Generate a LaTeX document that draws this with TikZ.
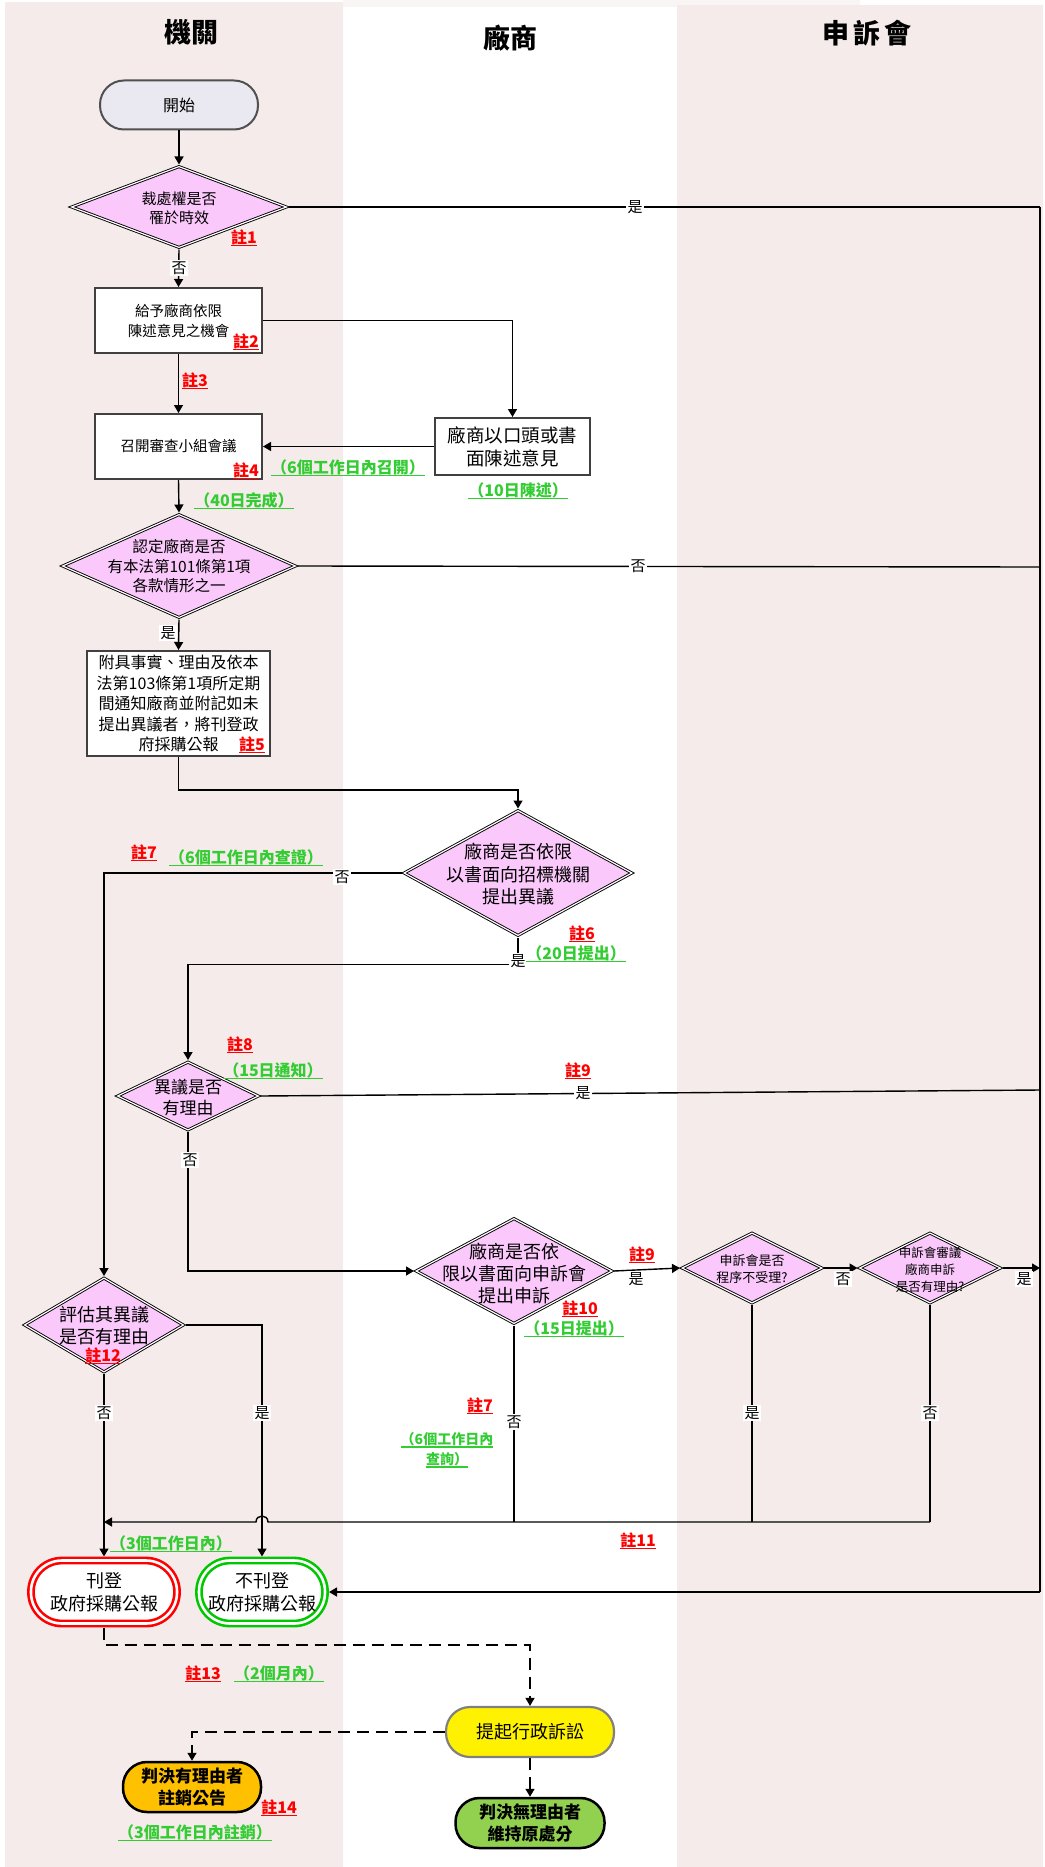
\documentclass[tikz,border=0pt]{standalone}
\usepackage{fontspec}
\setmainfont{Noto Sans CJK TC}
\usetikzlibrary{shapes.geometric,arrows.meta,calc}
\definecolor{lanepink}{RGB}{246,235,235}
\definecolor{dpink}{RGB}{251,200,251}
\definecolor{startgray}{RGB}{234,232,240}
\definecolor{notegreen}{RGB}{51,204,51}
\definecolor{orangeF}{RGB}{255,192,0}
\definecolor{greenF}{RGB}{146,208,80}
\definecolor{boxgray}{RGB}{64,64,64}
\definecolor{termgray}{RGB}{80,80,80}
\definecolor{suitgray}{RGB}{128,128,128}
\definecolor{ringgreen}{RGB}{0,200,0}
\newcommand{\myfs}[2]{\fontsize{#1}{#2}\selectfont}
\newcommand{\myul}[1]{\leavevmode\setbox0=\hbox{#1}\rlap{\rule[-3pt]{\wd0}{1.2pt}}\box0}
\begin{document}
\begin{tikzpicture}[x=1pt,y=-1pt,
  dia/.style={shape=diamond, draw=black, double=white, double distance=1.2pt, line width=0.9pt, fill=dpink, inner sep=0pt, outer sep=1.5pt},
  dtext/.style={align=center, inner sep=0pt},
  pbox/.style={rectangle, draw=boxgray, line width=2pt, fill=white, inner sep=0pt, align=center},
  term/.style={rectangle, rounded corners=#1, inner sep=0pt, align=center},
  conn/.style={line width=1.4pt, draw=black},
  arr/.style={conn, -{Triangle[length=8pt,width=9pt]}},
  dsh/.style={arr, dash pattern=on 12pt off 7pt},
  yn/.style={fill=white, inner sep=1.5pt, font=\myfs{15}{15}},
  note/.style={text=red, font=\bfseries\myfs{16}{16}, inner sep=0pt},
  gnote/.style={text=notegreen, font=\bfseries\myfs{16}{20}, inner sep=0pt, align=center},
  ttl/.style={font=\bfseries\myfs{27}{27}, inner sep=0pt},
]
\useasboundingbox (0,0) rectangle (1044,1867);
% lanes
\fill[lanepink] (5,2) rectangle (343,1867);
\fill[lanepink!50] (343,0) rectangle (860,7);
\fill[lanepink] (677,5) rectangle (1043,1867);
\node[ttl] (h1) at (191,32) {機關};
\node[ttl] (h2) at (510,38) {廠商};
\node[ttl] (h3) at (867,33) {申\hspace{4pt}訴\hspace{4pt}會};

% nodes
\node[term=24pt, draw=termgray, line width=2pt, fill=startgray, minimum width=158pt, minimum height=49pt, font=\myfs{16}{16}] (start) at (179,105) {開始};
\node[dia, minimum width=216pt, minimum height=82pt] (d1) at (179,207) {};
\node[dtext, font=\myfs{15}{19}] (d1t) at (179,208.5) {裁處權是否\\罹於時效};
\node[pbox, minimum width=167pt, minimum height=65pt, font=\myfs{14.5}{20}] (b2) at (178.5,320.5) {給予廠商依限\\陳述意見之機會};
\node[pbox, minimum width=167pt, minimum height=65pt, font=\myfs{14.5}{20}] (b3) at (178.5,446.5) {召開審查小組會議};
\node[pbox, minimum width=155pt, minimum height=57pt, font=\myfs{18.5}{23}] (bv) at (512.5,446.5) {廠商以口頭或書\\面陳述意見};
\node[dia, minimum width=234pt, minimum height=104pt] (d2) at (179,566) {};
\node[dtext, font=\myfs{15.5}{19.5}] (d2t) at (179,566.5) {認定廠商是否\\有本法第101條第1項\\各款情形之一};
\node[pbox, minimum width=183pt, minimum height=105pt, font=\myfs{16}{20.5}] (b5) at (178.5,703.5) {附具事實、理由及依本\\法第103條第1項所定期\\間通知廠商並附記如未\\提出異議者，將刊登政\\府採購公報};
\node[dia, minimum width=229pt, minimum height=126pt] (d3) at (518,873) {};
\node[dtext, font=\myfs{18}{22.5}] (d3t) at (518,874.5) {廠商是否依限\\以書面向招標機關\\提出異議};
\node[dia, minimum width=142pt, minimum height=69pt] (d4) at (188,1096) {};
\node[dtext, font=\myfs{17}{21}] (d4t) at (188,1097.5) {異議是否\\有理由};
\node[dia, minimum width=160pt, minimum height=95pt] (d5) at (104,1325) {};
\node[dtext, font=\myfs{18}{22}] (d5t) at (104,1326) {評估其異議\\是否有理由};
\node[dia, minimum width=197pt, minimum height=106pt] (d6) at (514,1271) {};
\node[dtext, font=\myfs{18}{22}] (d6t) at (514,1273) {廠商是否依\\限以書面向申訴會\\提出申訴};
\node[dia, minimum width=141pt, minimum height=71pt] (d7) at (752,1268) {};
\node[dtext, font=\myfs{13}{17}] (d7t) at (752,1269.5) {申訴會是否\\程序不受理?};
\node[dia, minimum width=142pt, minimum height=71pt] (d8) at (930,1268) {};
\node[dtext, font=\myfs{12.5}{17}] (d8t) at (930,1270) {申訴會審議\\廠商申訴\\是否有理由?};
\node[term=31pt, draw=red, double=white, double distance=2.6pt, line width=2.6pt, fill=white, outer sep=4pt, minimum width=146pt, minimum height=63pt, font=\myfs{18}{23}] (tpub) at (104,1592) {刊登\\政府採購公報};
\node[term=31pt, draw=ringgreen, double=white, double distance=2.6pt, line width=2.6pt, fill=white, outer sep=4pt, minimum width=126pt, minimum height=63pt, font=\myfs{18}{23}] (tnopub) at (262,1592) {不刊登\\政府採購公報};
\node[term=24pt, draw=suitgray, line width=2.2pt, fill=yellow, minimum width=168pt, minimum height=50pt, font=\myfs{18}{22}] (tsuit) at (530,1732) {提起行政訴訟};
\node[term=24pt, draw=black, line width=2.5pt, fill=orangeF, minimum width=138pt, minimum height=50pt, font=\bfseries\myfs{17}{22}] (tyes) at (192,1787) {判決有理由者\\註銷公告};
\node[term=24pt, draw=black, line width=2.5pt, fill=greenF, minimum width=149pt, minimum height=50pt, font=\bfseries\myfs{17}{22}] (tno) at (530,1823) {判決無理由者\\維持原處分};

% right-side collector line
\coordinate (r1) at (1040,207);
\coordinate (r2) at (1040,567);
\coordinate (r3) at (1040,1090);
\coordinate (r4) at (1040,1268);
\coordinate (r5) at (1040,1592);
\draw[conn, line width=2.4pt] (r1) -- (r5);

% connectors
\draw[arr] (start.south) -- (d1.north);
\draw[arr] (d1.south) -- (b2.north);
\draw[conn] (d1.east) -- (r1);
\draw[arr] (b2.east) -| (bv.north);
\draw[arr] (b2.south) -- (b3.north);
\draw[arr] (bv.west) -- (b3.east);
\draw[arr] (b3.south) -- (d2.north);
\draw[conn] (d2.east) -- (r2);
\draw[arr] (d2.south) -- (b5.north);
\draw[arr] (b5.south) -- ++(0,33) -| (d3.north);
\draw[arr] (d3.west) -| (d5.north);
\draw[arr] (d3.south) -- ++(0,27) -| (d4.north);
\draw[conn] (d4.east) -- (r3);
\draw[arr] (d4.south) |- (d6.west);
\draw[arr] (d5.south) -- (tpub.north);
\draw[arr] (d5.east) -| (tnopub.north);
\draw[arr] (d6.east) -- (d7.west);
\draw[arr] (d7.east) -- (d8.west);
\draw[arr] (d8.east) -- (r4);
\draw[arr] (r5) -- (tnopub.east);

\coordinate (c6) at (514,1522);
\coordinate (c7) at (752,1522);
\coordinate (c8) at (930,1522);
\coordinate (cL) at (104,1522);
\draw[conn] (d6.south) -- (c6);
\draw[conn] (d7.south) -- (c7);
\draw[conn] (d8.south) -- (c8);
\draw[arr] (c8) -- (268,1522) .. controls (268,1514) and (256,1514) .. (256,1522) -- (cL);

\coordinate (dA) at (104,1645);
\coordinate (dB) at (530,1645);
\draw[dsh] (tpub.south) -- (dA) -- (dB) -- (tsuit.north);
\draw[dsh] (tsuit.west) -| (tyes.north);
\draw[dsh] (tsuit.south) -- (tno.north);

% yes/no labels
\node[yn] (l1) at (635,207) {是};
\node[yn] (l2) at (179,268) {否};
\node[yn] (l3) at (638,566) {否};
\node[yn] (l4) at (168,633) {是};
\node[yn] (l5) at (342,877) {否};
\node[yn] (l6) at (518,961) {是};
\node[yn] (l7) at (583,1093) {是};
\node[yn] (l8) at (190,1160) {否};
\node[yn] (l9) at (636,1279) {是};
\node[yn] (l10) at (843,1279) {否};
\node[yn] (l11) at (1024,1279) {是};
\node[yn] (l12) at (514,1422) {否};
\node[yn] (l13) at (752,1413) {是};
\node[yn] (l14) at (930,1413) {否};
\node[yn] (l15) at (104,1413) {否};
\node[yn] (l16) at (262,1413) {是};

% red notes
\node[note] (n1) at (244,238) {\myul{註1}};
\node[note] (n2) at (246,342) {\myul{註2}};
\node[note] (n3) at (195,381) {\myul{註3}};
\node[note] (n4) at (246,471) {\myul{註4}};
\node[note] (n5) at (252,745) {\myul{註5}};
\node[note] (n6) at (582,934) {\myul{註6}};
\node[note] (n7) at (144,853) {\myul{註7}};
\node[note] (n8) at (240,1045) {\myul{註8}};
\node[note] (n9) at (578,1071) {\myul{註9}};
\node[note] (n9b) at (642,1255) {\myul{註9}};
\node[note] (n10) at (580,1309) {\myul{註10}};
\node[note] (n7b) at (480,1406) {\myul{註7}};
\node[note] (n11) at (638,1541) {\myul{註11}};
\node[note] (n12) at (103,1356) {\myul{註12}};
\node[note] (n13) at (203,1674) {\myul{註13}};
\node[note] (n14) at (279,1808) {\myul{註14}};

% green notes
\node[gnote] (g1) at (348,468) {\myul{（6個工作日內召開）}};
\node[gnote] (g2) at (518,491) {\myul{（10日陳述）}};
\node[gnote] (g3) at (244,501) {\myul{（40日完成）}};
\node[gnote] (g4) at (246,858) {\myul{（6個工作日內查證）}};
\node[gnote] (g5) at (576,954) {\myul{（20日提出）}};
\node[gnote] (g6) at (273,1071) {\myul{（15日通知）}};
\node[gnote] (g7) at (574,1329) {\myul{（15日提出）}};
\node[gnote, font=\bfseries\myfs{14}{20}] (g8) at (447,1450) {\myul{（6個工作日內}\\\myul{查詢）}};
\node[gnote] (g9) at (171,1544) {\myul{（3個工作日內）}};
\node[gnote] (g10) at (279,1674) {\myul{（2個月內）}};
\node[gnote] (g11) at (195,1833) {\myul{（3個工作日內註銷）}};
\end{tikzpicture}
\end{document}
